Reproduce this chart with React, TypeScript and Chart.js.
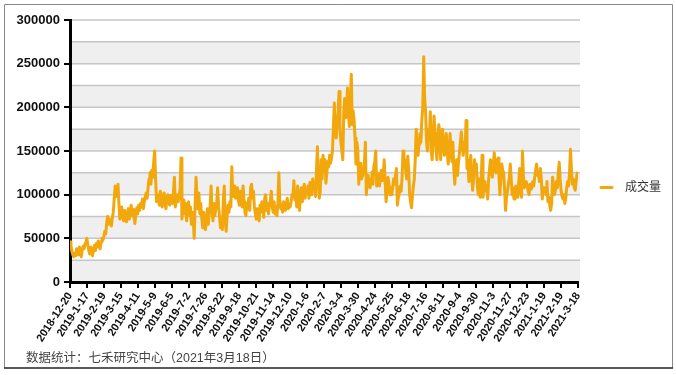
import React, { useEffect, useRef } from "react";
import { Chart, registerables } from "chart.js";

Chart.register(...registerables);

const seriesName = "成交量";
const footnote = "数据统计：七禾研究中心（2021年3月18日）";

// x-axis tick dates (one every 18 trading days)
const tickLabels = [
  "2018-12-20", "2019-1-17", "2019-2-19", "2019-3-15", "2019-4-11", "2019-5-9",
  "2019-6-5", "2019-7-2", "2019-7-26", "2019-8-22", "2019-9-18", "2019-10-21",
  "2019-11-14", "2019-12-10", "2020-1-6", "2020-2-7", "2020-3-4", "2020-3-30",
  "2020-4-24", "2020-5-25", "2020-6-18", "2020-7-16", "2020-8-11", "2020-9-4",
  "2020-9-30", "2020-11-3", "2020-11-27", "2020-12-23", "2021-1-19", "2021-2-19",
  "2021-3-18",
];
const tickEvery = 18;

const yMin = 0;
const yMax = 300000;
const yLabelStep = 50000;
const bandStep = 25000;

// daily trading volume (one value per trading day)
const volumes = [
  46000, 42000, 35000, 31000, 29000, 33000, 30000, 38000, 36000, 31000, 40000, 34000, 29000, 37000, 41000, 38000, 44000, 46000,
  50000, 42000, 36000, 32000, 40000, 35000, 30000, 38000, 42000, 36000, 44000, 40000, 47000, 43000, 38000, 46000, 50000, 48000,
  52000, 58000, 55000, 68000, 75000, 66000, 72000, 70000, 64000, 73000, 80000, 95000, 110000, 98000, 104000, 112000, 90000, 72000,
  80000, 86000, 74000, 70000, 82000, 76000, 69000, 78000, 84000, 72000, 80000, 88000, 76000, 83000, 74000, 67000, 79000, 85000,
  78000, 88000, 82000, 90000, 86000, 95000, 84000, 92000, 98000, 102000, 96000, 108000, 118000, 125000, 112000, 128000, 120000, 138000,
  150000, 118000, 92000, 100000, 96000, 88000, 104000, 94000, 86000, 98000, 102000, 90000, 84000, 96000, 100000, 92000, 88000, 99000,
  96000, 90000, 104000, 120000, 86000, 94000, 100000, 92000, 98000, 106000, 142000, 72000, 88000, 94000, 78000, 90000, 70000, 84000,
  92000, 76000, 86000, 66000, 80000, 72000, 50000, 88000, 120000, 96000, 84000, 102000, 78000, 90000, 74000, 62000, 80000, 68000,
  60000, 72000, 84000, 66000, 78000, 88000, 110000, 80000, 70000, 90000, 76000, 84000, 92000, 108000, 86000, 74000, 62000, 70000,
  60000, 95000, 110000, 70000, 58000, 76000, 88000, 80000, 92000, 86000, 132000, 98000, 104000, 110000, 96000, 102000, 108000, 94000,
  88000, 104000, 98000, 86000, 110000, 92000, 80000, 76000, 90000, 84000, 96000, 82000, 108000, 112000, 96000, 104000, 86000, 78000,
  72000, 84000, 78000, 70000, 88000, 80000, 92000, 86000, 74000, 96000, 100000, 82000, 90000, 78000, 88000, 94000, 104000, 86000,
  80000, 92000, 78000, 86000, 76000, 90000, 125000, 94000, 84000, 88000, 80000, 92000, 86000, 82000, 90000, 96000, 84000, 88000,
  86000, 92000, 100000, 98000, 116000, 94000, 104000, 86000, 110000, 96000, 82000, 100000, 108000, 92000, 104000, 112000, 96000, 106000,
  102000, 110000, 96000, 114000, 106000, 100000, 118000, 108000, 112000, 98000, 128000, 155000, 120000, 96000, 104000, 140000, 118000, 145000,
  128000, 140000, 113000, 124000, 138000, 132000, 145000, 136000, 142000, 150000, 178000, 205000, 170000, 165000, 182000, 195000, 218000, 175000,
  160000, 150000, 140000, 195000, 210000, 188000, 200000, 222000, 192000, 178000, 205000, 238000, 180000, 196000, 185000, 165000, 135000, 160000,
  150000, 112000, 128000, 136000, 118000, 122000, 126000, 138000, 160000, 100000, 116000, 122000, 110000, 108000, 118000, 126000, 112000, 132000,
  138000, 150000, 110000, 118000, 124000, 110000, 120000, 128000, 116000, 122000, 140000, 114000, 92000, 106000, 120000, 112000, 100000, 108000,
  100000, 108000, 118000, 112000, 122000, 130000, 88000, 96000, 102000, 110000, 104000, 120000, 150000, 132000, 140000, 125000, 118000, 144000,
  130000, 100000, 92000, 85000, 98000, 110000, 118000, 140000, 175000, 160000, 145000, 158000, 170000, 160000, 185000, 200000, 258000, 210000,
  195000, 160000, 150000, 175000, 165000, 195000, 150000, 140000, 165000, 190000, 170000, 155000, 140000, 160000, 180000, 172000, 140000, 158000,
  175000, 160000, 145000, 158000, 170000, 150000, 135000, 148000, 170000, 150000, 138000, 160000, 128000, 112000, 130000, 140000, 122000, 138000,
  148000, 160000, 172000, 158000, 145000, 160000, 150000, 185000, 130000, 140000, 115000, 128000, 145000, 120000, 105000, 118000, 140000, 125000,
  135000, 110000, 100000, 118000, 97000, 112000, 145000, 97000, 108000, 115000, 104000, 110000, 95000, 118000, 130000, 140000, 125000, 120000,
  135000, 148000, 130000, 125000, 138000, 142000, 120000, 100000, 118000, 135000, 128000, 125000, 105000, 82000, 97000, 104000, 112000, 120000,
  135000, 118000, 100000, 108000, 95000, 102000, 110000, 104000, 97000, 115000, 130000, 105000, 97000, 150000, 120000, 108000, 112000, 115000,
  110000, 104000, 100000, 112000, 106000, 108000, 115000, 110000, 120000, 128000, 135000, 122000, 125000, 115000, 130000, 118000, 95000, 108000,
  104000, 108000, 100000, 115000, 92000, 97000, 88000, 82000, 90000, 120000, 110000, 100000, 106000, 115000, 108000, 125000, 137000, 118000,
  105000, 98000, 95000, 100000, 90000, 96000, 108000, 115000, 110000, 125000, 152000, 130000, 112000, 118000, 108000, 105000, 115000, 124000,
  126000,
];

const LINE_COLOR = "#F2A70C";
const LATIN = "'Liberation Sans', Arial, sans-serif";
const CJK = "'Liberation Sans', 'Noto Sans CJK SC', sans-serif";

export default function App() {
  const ref = useRef<HTMLCanvasElement>(null);

  useEffect(() => {
    document.body.style.margin = "0";
    const canvas = ref.current;
    if (!canvas) return;

    const bands = {
      id: "bands",
      beforeDraw(chart: any) {
        const { ctx, chartArea } = chart;
        const y = chart.scales.y;
        ctx.save();
        for (let v = yMin; v < yMax; v += bandStep) {
          const idx = Math.round((v - yMin) / bandStep);
          if (idx % 2 === 0) {
            const top = y.getPixelForValue(v + bandStep);
            const bot = y.getPixelForValue(v);
            ctx.fillStyle = "#efefef";
            ctx.fillRect(chartArea.left, top, chartArea.right - chartArea.left + 2, bot - top);
          }
        }
        ctx.strokeStyle = "#c6c6c6";
        ctx.lineWidth = 1.5;
        for (let v = yMin + bandStep; v <= yMax; v += bandStep) {
          const py = y.getPixelForValue(v);
          ctx.beginPath();
          ctx.moveTo(chartArea.left, py);
          ctx.lineTo(chartArea.right + 2, py);
          ctx.stroke();
        }
        ctx.restore();
      },
    };

    const deco = {
      id: "deco",
      afterDraw(chart: any) {
        const { ctx, chartArea, width, height } = chart;
        ctx.save();
        // legend
        const ly = height / 2;
        const lx = chartArea.right + 22;
        ctx.strokeStyle = LINE_COLOR;
        ctx.lineWidth = 3;
        ctx.lineCap = "round";
        ctx.beginPath();
        ctx.moveTo(lx + 1, ly);
        ctx.lineTo(lx + 12, ly);
        ctx.stroke();
        ctx.fillStyle = "#333";
        ctx.font = `12px ${CJK}`;
        ctx.textBaseline = "middle";
        ctx.textAlign = "left";
        ctx.fillText(seriesName, lx + 25, ly);
        // footnote
        ctx.fillStyle = "#444";
        ctx.font = `12.5px ${CJK}`;
        ctx.fillText(footnote, 26, 359);
        // frame
        ctx.lineCap = "butt";
        ctx.strokeStyle = "#888";
        ctx.lineWidth = 1;
        ctx.beginPath();
        ctx.moveTo(4.5, height - 7);
        ctx.lineTo(4.5, 4.5);
        ctx.lineTo(width - 3.5, 4.5);
        ctx.lineTo(width - 3.5, height - 7);
        ctx.stroke();
        ctx.strokeStyle = "#222";
        ctx.lineWidth = 1.5;
        ctx.beginPath();
        ctx.moveTo(4, height - 7);
        ctx.lineTo(width - 3, height - 7);
        ctx.stroke();
        ctx.restore();
      },
    };

    const chart = new Chart(canvas, {
      type: "line",
      data: {
        datasets: [
          {
            label: seriesName,
            data: volumes.map((v, i) => ({ x: i, y: v })),
            borderColor: LINE_COLOR,
            backgroundColor: LINE_COLOR,
            borderWidth: 3,
            borderJoinStyle: "round",
            pointRadius: 0,
            tension: 0,
            fill: false,
          },
        ],
      },
      options: {
        responsive: false,
        animation: false,
        devicePixelRatio: 1,
        layout: { padding: { top: 20, right: 98, bottom: 0, left: 0 } },
        plugins: {
          legend: { display: false },
          tooltip: { enabled: false },
        },
        scales: {
          x: {
            type: "linear",
            min: 0,
            max: (tickLabels.length - 1) * tickEvery,
            afterBuildTicks(scale: any) {
              scale.ticks = tickLabels.map((_, i) => ({ value: i * tickEvery }));
            },
            afterFit(scale: any) {
              scale.height = 93;
            },
            ticks: {
              autoSkip: false,
              minRotation: 57,
              maxRotation: 57,
              padding: 2,
              color: "#111",
              font: { family: LATIN, size: 11, weight: "bold" },
              callback: (_v: any, i: number) => tickLabels[i],
            },
            grid: { drawOnChartArea: false, drawTicks: true, tickLength: 6, color: "#000", lineWidth: 2 },
            border: { display: true, color: "#000", width: 3 },
          },
          y: {
            type: "linear",
            min: yMin,
            max: yMax,
            afterFit(scale: any) {
              scale.width = 70;
            },
            ticks: {
              stepSize: yLabelStep,
              padding: 4,
              color: "#111",
              font: { family: LATIN, size: 13, weight: "bold" },
              callback: (v: any) => String(v),
            },
            grid: { drawOnChartArea: false, drawTicks: true, tickLength: 6, color: "#000", lineWidth: 2 },
            border: { display: true, color: "#000", width: 3 },
          },
        },
      } as any,
      plugins: [bands, deco],
    });

    return () => chart.destroy();
  }, []);

  return <canvas ref={ref} width={676} height={375} style={{ display: "block" }} />;
}
